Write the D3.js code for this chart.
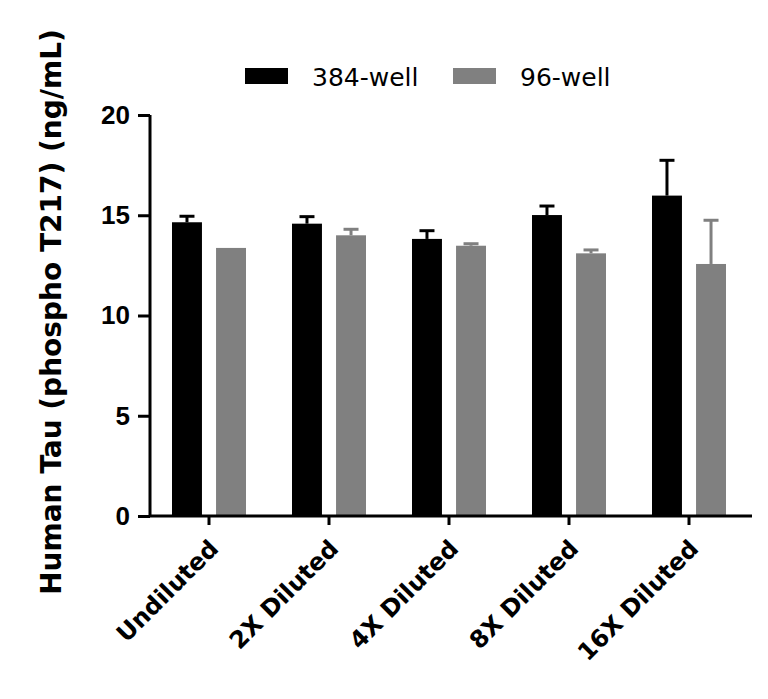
<!DOCTYPE html>
<html>
<head>
<meta charset="utf-8">
<script src="https://cdn.jsdelivr.net/npm/d3@7"></script>
<style>
  body { margin: 0; background: #fff; }
  svg { font-family: "DejaVu Sans", sans-serif; }
</style>
</head>
<body>
<svg id="chart" width="768" height="699"></svg>
<script>
// values
const categories = ['Undiluted', '2X Diluted', '4X Diluted', '8X Diluted', '16X Diluted'];
const seriesNames = ['384-well', '96-well'];
const well384 = [14.65, 14.58, 13.82, 15.01, 15.98];
const well384Err = [0.30, 0.35, 0.41, 0.45, 1.76];
const well96 = [13.37, 14.00, 13.48, 13.10, 12.57];
const well96Err = [0, 0.30, 0.10, 0.17, 2.18];
const yTicks = [0, 5, 10, 15, 20];

const colors = { '384-well': '#000000', '96-well': '#808080' };

const svg = d3.select('#chart');

const x = d3.scaleBand()
    .domain(categories)
    .range([149, 749])
    .padding(0);

const xSub = d3.scaleBand()
    .domain(seriesNames)
    .range([x.bandwidth() / 2 - 37, x.bandwidth() / 2 + 37])
    .paddingInner(0.32);

const y = d3.scaleLinear()
    .domain([0, 20])
    .range([516, 115]);

const rows = categories.map((c, i) => ({
    cat: c,
    vals: [
        { s: '384-well', v: well384[i], e: well384Err[i] },
        { s: '96-well', v: well96[i], e: well96Err[i] }
    ]
}));

const groups = svg.append('g')
    .selectAll('g')
    .data(rows)
    .join('g')
    .attr('transform', d => `translate(${x(d.cat)},0)`);

// error bars first so the bar covers the bottom of the whisker
const eb = groups.selectAll('g.err')
    .data(d => d.vals.filter(v => v.e > 0))
    .join('g')
    .attr('class', 'err')
    .attr('stroke', d => colors[d.s])
    .attr('stroke-width', 3);
eb.append('line')
    .attr('x1', d => xSub(d.s) + xSub.bandwidth() / 2)
    .attr('x2', d => xSub(d.s) + xSub.bandwidth() / 2)
    .attr('y1', d => y(d.v))
    .attr('y2', d => y(d.v + d.e));
eb.append('line')
    .attr('x1', d => xSub(d.s) + xSub.bandwidth() / 2 - 7.5)
    .attr('x2', d => xSub(d.s) + xSub.bandwidth() / 2 + 7.5)
    .attr('y1', d => y(d.v + d.e))
    .attr('y2', d => y(d.v + d.e));

groups.selectAll('rect')
    .data(d => d.vals)
    .join('rect')
    .attr('x', d => xSub(d.s))
    .attr('y', d => y(d.v))
    .attr('width', xSub.bandwidth())
    .attr('height', d => y(0) - y(d.v))
    .attr('fill', d => colors[d.s]);

// axes
const yAxis = svg.append('g')
    .attr('transform', 'translate(150,0)')
    .call(d3.axisLeft(y).tickValues(yTicks).tickSize(12).tickPadding(8));
const xAxis = svg.append('g')
    .attr('transform', `translate(0,${y(0)})`)
    .call(d3.axisBottom(x).tickSize(9).tickSizeOuter(0).tickFormat(''));

xAxis.select('.domain').attr('d', `M150,0H752`);
yAxis.select('.domain').attr('d', `M0,${y(20)}V${y(0)}`);

[xAxis, yAxis].forEach(a => {
    a.selectAll('.domain, line').attr('stroke', '#000').attr('stroke-width', 3);
});
yAxis.selectAll('text')
    .attr('fill', '#000')
    .style('font-family', '"Liberation Sans", sans-serif')
    .style('font-size', '26px')
    .style('font-weight', 'bold');

// category labels rotated -45
svg.append('g')
    .selectAll('text')
    .data(categories)
    .join('text')
    .attr('transform', d => `translate(${x(d) + x.bandwidth() / 2 + 11},${y(0) + 34}) rotate(-45)`)
    .attr('text-anchor', 'end')
    .style('font-size', '24px')
    .style('font-weight', 'bold')
    .text(d => d);

// y title
svg.append('text')
    .attr('transform', 'translate(61,312) rotate(-90)')
    .attr('text-anchor', 'middle')
    .style('font-size', '28px')
    .style('font-weight', 'bold')
    .text('Human Tau (phospho T217) (ng/mL)');

// legend
const legendX = [245, 453];
const leg = svg.append('g')
    .selectAll('g')
    .data(seriesNames)
    .join('g')
    .attr('transform', (d, i) => `translate(${legendX[i]},68)`);
leg.append('rect')
    .attr('width', 43)
    .attr('height', 16)
    .attr('fill', d => colors[d]);
leg.append('text')
    .attr('x', 67)
    .attr('y', 18)
    .style('font-size', '25px')
    .text(d => d);
</script>
</body>
</html>
